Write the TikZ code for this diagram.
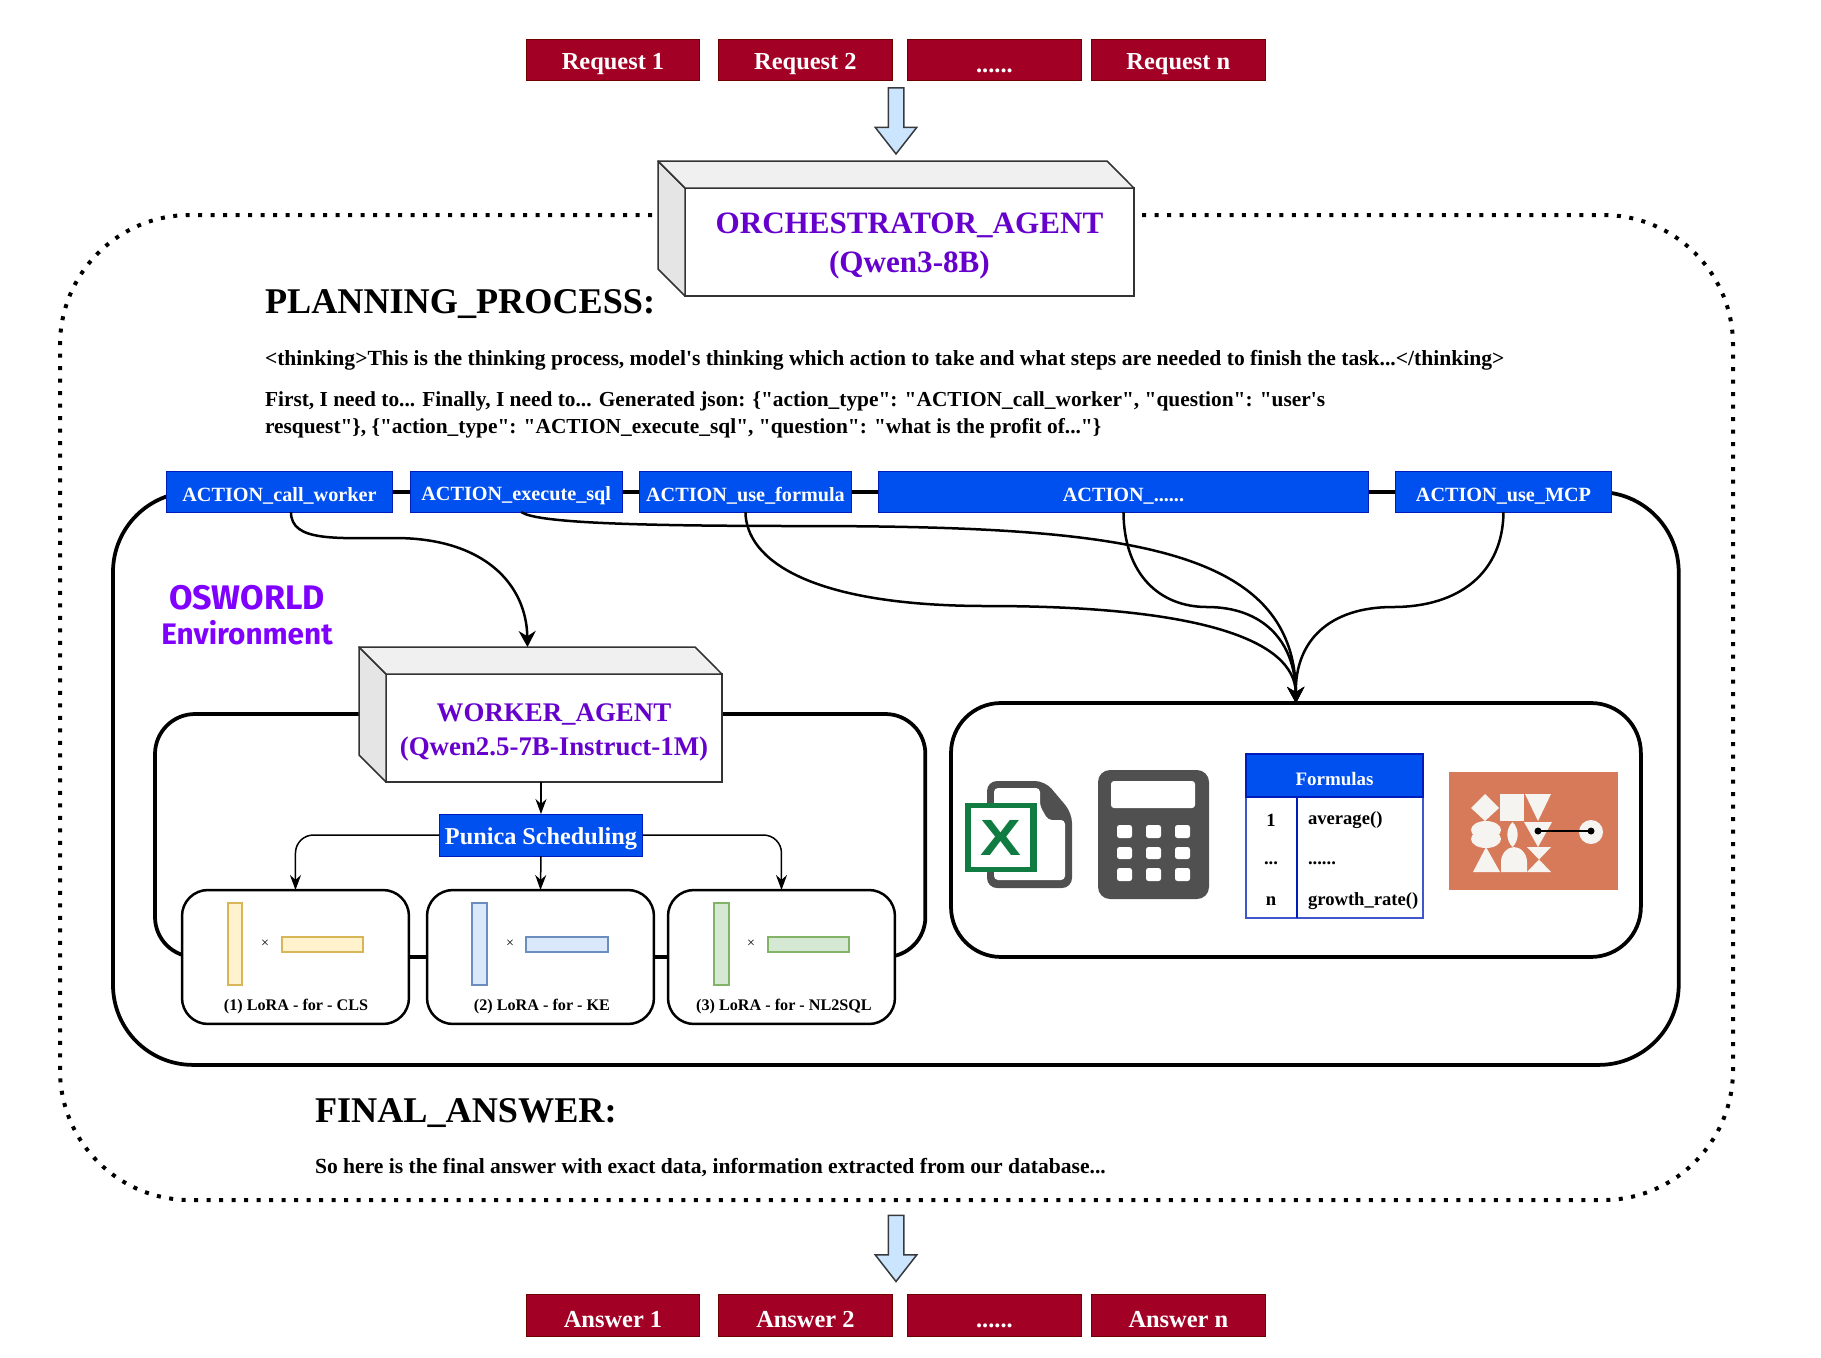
\documentclass[tikz,border=0pt]{standalone}
\usepackage{fontspec}
\usepackage{graphicx}
\setmainfont[Ligatures=TeXOff]{Liberation Serif}
\setsansfont{Liberation Sans}
\newfontfamily\handfont{Fira Sans}
\usetikzlibrary{arrows.meta,positioning,shapes.arrows}
\definecolor{reqred}{HTML}{A20025}
\definecolor{reqedge}{HTML}{6F0000}
\definecolor{actblue}{HTML}{0050EF}
\definecolor{actedge}{HTML}{001DBC}
\definecolor{agentpurple}{HTML}{6600CC}
\definecolor{envpurple}{HTML}{7F00FF}
\definecolor{arrowblue}{HTML}{CCE5FF}
\definecolor{arrowedge}{HTML}{36393D}
\definecolor{iconrust}{HTML}{D67A5A}
\definecolor{icongrey}{HTML}{505050}
\definecolor{excelgreen}{HTML}{107C41}
\definecolor{shapewhite}{HTML}{F6F4F0}
\definecolor{barsand}{HTML}{FFF2CC}
\definecolor{barsandedge}{HTML}{D6B656}
\definecolor{barsky}{HTML}{DAE8FC}
\definecolor{barskyedge}{HTML}{6C8EBF}
\definecolor{barleaf}{HTML}{D5E8D4}
\definecolor{barleafedge}{HTML}{82B366}
\newcommand{\textnudge}{\rule{0pt}{\dimexpr0.68em+4.6pt\relax}}

\begin{document}
\begin{tikzpicture}[
  x=0.02cm, y=-0.02cm,
  base/.style={inner sep=0pt, outer sep=0pt, align=center},
  reqbox/.style={base, execute at begin node=\textnudge, draw=reqedge, fill=reqred, text=white, line width=0.02cm, minimum width=3.48cm, minimum height=0.84cm, anchor=north west,
    font=\fontsize{13.9}{16}\selectfont\bfseries},
  actbox/.style={base, execute at begin node=\textnudge, draw=actedge, fill=actblue, text=white, line width=0.02cm, minimum height=0.82cm, anchor=north west,
    font=\fontsize{11.5}{14}\selectfont\bfseries},
  agentbox/.style={base, draw=black!80, fill=white, line width=0.03cm, text=agentpurple, anchor=north west},
  cubeside/.style={draw=black!80, fill=black!10, line width=0.03cm, line join=round},
  cubetop/.style={draw=black!80, fill=black!6, line width=0.03cm, line join=round},
  panel/.style={base, draw=black, line width=0.075cm, anchor=north west},
  lorabox/.style={panel, fill=white, line width=0.05cm, rounded corners=0.52cm, minimum width=4.54cm, minimum height=2.68cm},
  lorabar/.style={line width=0.03cm},
  loralabel/.style={base, font=\fontsize{9.2}{11}\selectfont\bfseries},
  timeslabel/.style={base, font=\fontsize{8}{9}\selectfont},
  flow/.style={-{Stealth[length=0.32cm, width=0.34cm]}, line width=0.05cm},
  thinflow/.style={-{Stealth[length=0.3cm, width=0.22cm]}, line width=0.03cm},
  blockarrow/.style={base, single arrow, draw=arrowedge, fill=arrowblue, line width=0.03cm, shape border rotate=270,
    inner sep=0.14cm, minimum width=0.8cm, minimum height=1.32cm, single arrow head extend=0.26cm, single arrow tip angle=76},
  heading/.style={base, anchor=west, font=\fontsize{20.6}{24}\selectfont\bfseries},
  bodytext/.style={base, anchor=west, align=left, font=\fontsize{12.28}{15}\selectfont\bfseries},
  celltext/.style={base, font=\fontsize{10.6}{12}\selectfont\bfseries},
]
  \useasboundingbox (0,0) rectangle (1821,1357);

  % requests
  \node[reqbox] (req1) at (526,39) {Request 1};
  \node[reqbox, right=0.37cm of req1] (req2) {Request 2};
  \node[reqbox, right=0.3cm of req2] (req3) {......};
  \node[reqbox, right=0.2cm of req3] (req4) {Request n};
  \node[blockarrow] (inarrow) at (896,116) {};

  % outer loop
  \draw[line width=0.08cm, dash pattern=on 0.08cm off 0.17cm, rounded corners=2.6cm]
    (1142,215) -| (1733,1200) -| (60,215) -- (657,215);

  % orchestrator
  \node[agentbox, minimum width=8.98cm, minimum height=2.16cm, font=\fontsize{17.7}{22}\selectfont\bfseries] (orch) at (685,188) {\textnudge ORCHESTRATOR\_AGENT\\(Qwen3-8B)};
  \draw[cubeside] (orch.north west) -- ++(-27,-27) -- ++(0,108) -- (orch.south west) -- cycle;
  \draw[cubetop] (orch.north west) -- ++(-27,-27) -- ++(449,0) -- (orch.north east) -- cycle;

  \node[heading] (plan) at (265,304.5) {PLANNING\_PROCESS:};
  \node[bodytext] (think) at (265,360) {<thinking>This is the thinking process, model's thinking which action to take and what steps are needed to finish the task...</thinking>};
  \node[bodytext, font=\fontsize{12.17}{15}\selectfont\bfseries] (firstline) at (265,415) {First, I need to... Finally, I need to... Generated json: \{"action\_type": "ACTION\_call\_worker", "question": "user's\\resquest"\}, \{"action\_type": "ACTION\_execute\_sql", "question": "what is the profit of..."\}};

  % environment
  \node[panel, rounded corners=1.6cm, minimum width=31.32cm, minimum height=11.46cm] (envpanel) at (113,492) {};
  \node[actbox, minimum width=4.54cm] (actcall) at (166,471) {ACTION\_call\_worker};
  \node[actbox, minimum width=4.25cm] (actsql) at (410,471) {ACTION\_execute\_sql};
  \node[actbox, minimum width=4.26cm] (actformula) at (639,471) {ACTION\_use\_formula};
  \node[actbox, minimum width=9.82cm] (actmore) at (878,471) {ACTION\_......};
  \node[actbox, minimum width=4.34cm] (actmcp) at (1395,471) {ACTION\_use\_MCP};
  \node[base, text=envpurple, font=\handfont\bfseries] (osworld) at (247,615) {{\fontsize{19.4}{20.5}\selectfont OSWORLD}\\[5pt]{\fontsize{16.9}{20.5}\selectfont Environment}};

  % worker side
  \node[panel, rounded corners=0.8cm, minimum width=15.41cm, minimum height=4.86cm] (workerpanel) at (155,714) {};
  \node[agentbox, minimum width=6.72cm, minimum height=2.16cm, font=\fontsize{15.3}{19}\selectfont\bfseries] (worker) at (386,674) {\textnudge WORKER\_AGENT\\(Qwen2.5-7B-Instruct-1M)};
  \draw[cubeside] (worker.north west) -- ++(-27,-27) -- ++(0,108) -- (worker.south west) -- cycle;
  \draw[cubetop] (worker.north west) -- ++(-27,-27) -- ++(336,0) -- (worker.north east) -- cycle;
  \coordinate (workertop) at ([shift={(-26.5,-27)}]worker.north);
  \node[actbox, minimum width=4.08cm, minimum height=0.84cm, font=\fontsize{13.8}{16}\selectfont\bfseries] (punica) at (439,814) {Punica Scheduling};
  \node[lorabox] (lora1) at (182,890) {};
  \node[lorabox] (lora2) at (427,890) {};
  \node[lorabox] (lora3) at (668,890) {};
  \draw[lorabar, draw=barsandedge, fill=barsand] (228,903) rectangle (242,985);
  \draw[lorabar, draw=barsandedge, fill=barsand] (282,937) rectangle (363,952);
  \node[timeslabel] (times1) at (265,944) {×};
  \node[loralabel] (label1) at (296,1007) {(1) LoRA - for - CLS};
  \draw[lorabar, draw=barskyedge, fill=barsky] (472,903) rectangle (487,985);
  \draw[lorabar, draw=barskyedge, fill=barsky] (526,937) rectangle (608,952);
  \node[timeslabel] (times2) at (510,944) {×};
  \node[loralabel] (label2) at (542,1007) {(2) LoRA - for - KE};
  \draw[lorabar, draw=barleafedge, fill=barleaf] (714,903) rectangle (729,985);
  \draw[lorabar, draw=barleafedge, fill=barleaf] (768,937) rectangle (849,952);
  \node[timeslabel] (times3) at (751,944) {×};
  \node[loralabel] (label3) at (784,1007) {(3) LoRA - for - NL2SQL};
  \draw[thinflow] (worker.south -| punica.north) -- (punica.north);
  \draw[thinflow] (punica.south) -- (lora2.north);
  \draw[thinflow, rounded corners=0.36cm] (punica.west) -| (lora1.north);
  \draw[thinflow, rounded corners=0.36cm] (punica.east) -| (lora3.north);

  % tool side
  \node[panel, rounded corners=1cm, minimum width=13.8cm, minimum height=5.08cm] (tools) at (951,703) {};
  % excel
  \fill[icongrey, rounded corners=0.2cm] (987,781) -- (1045,781) -- (1072,813) -- (1072,888) -- (987,888) -- cycle;
  \fill[white, rounded corners=0.08cm] (994,788) -- (1040,788) -- (1040,806) -- (1048,820) -- (1065,820) -- (1065,880) -- (994,880) -- cycle;
  \fill[excelgreen] (965,803) rectangle (1037,872);
  \fill[white] (971,808) rectangle (1030,867);
  \node[base, text=excelgreen, font=\fontsize{29}{29}\selectfont\sffamily\bfseries] (excelx) at (1000.5,837.5) {\scalebox{1.2}[1]{X}};
  % calculator
  \fill[icongrey, rounded corners=0.24cm] (1098,770) rectangle (1209,899);
  \fill[white, rounded corners=0.06cm] (1111,781) rectangle (1195,808);
  \fill[white, rounded corners=0.05cm] (1117,825) rectangle (1132,838) (1146,825) rectangle (1161,838) (1175,825) rectangle (1190,838);
  \fill[white, rounded corners=0.05cm] (1117,847) rectangle (1132,859) (1146,847) rectangle (1161,859) (1175,847) rectangle (1190,859);
  \fill[white, rounded corners=0.05cm] (1117,868) rectangle (1132,881) (1146,868) rectangle (1161,881) (1175,868) rectangle (1190,881);
  % formulas
  \node[base, draw=actedge!75!white, fill=white, line width=0.03cm, minimum width=3.54cm, minimum height=3.28cm, anchor=north west] (fbody) at (1246,754) {};
  \node[actbox, line width=0.03cm, minimum width=3.54cm, minimum height=0.86cm, font=\fontsize{10.8}{12}\selectfont\bfseries] (fhead) at (1246,754) {Formulas};
  \draw[actedge, line width=0.03cm] (fhead.south -| 1297,0) -- (fbody.south -| 1297,0);
  \node[celltext] (row1) at (1271,820) {1};
  \node[celltext, anchor=west] (name1) at (1308,820) {average()};
  \node[celltext] (row2) at (1271,863) {...};
  \node[celltext, anchor=west] (name2) at (1308,863) {......};
  \node[celltext] (row3) at (1271,901) {n};
  \node[celltext, anchor=west] (name3) at (1308,901) {growth\_rate()};
  % mcp
  \fill[iconrust] (1449,772) rectangle (1618,890);
  \fill[shapewhite] (1485,794) -- (1499,808) -- (1485,821) -- (1471,808) -- cycle;
  \fill[shapewhite] (1500,794) rectangle (1524,821);
  \fill[shapewhite] (1525,794) -- (1551,794) -- (1538,821) -- cycle;
  \fill[shapewhite] (1486,830) ellipse [x radius=15, y radius=9];
  \fill[shapewhite] (1486,839) ellipse [x radius=15, y radius=9];
  \fill[shapewhite] (1512.5,822) to[bend left=45] (1512.5,847) to[bend left=45] cycle;
  \fill[shapewhite] (1524,822) -- (1552,822) -- (1538,847) -- cycle;
  \fill[shapewhite] (1473,872) -- (1500,872) -- (1486,847) -- cycle;
  \fill[shapewhite] (1501,872) -- (1501,862) .. controls (1501,853) and (1508,847) .. (1514,847) .. controls (1520,847) and (1527,853) .. (1527,862) -- (1527,872) -- cycle;
  \fill[shapewhite] (1527,847) -- (1551,847) -- (1527,872) -- (1551,872) -- cycle;
  \fill[shapewhite] (1591,832) circle [radius=12];
  \coordinate (mcpleft) at (1538,831);
  \coordinate (mcpright) at (1591,831);
  \draw[line width=0.04cm] (mcpleft) -- (mcpright);
  \fill (mcpleft) circle [radius=3.5];
  \fill (mcpright) circle [radius=3.5];

  % calls
  \draw[flow] ([xshift=0.23cm]actcall.south) .. controls ++(0,30) and (335,538) .. (395,538) .. controls (485,538) and (526.5,585) .. (workertop);
  \draw[flow] ([xshift=0.1cm]actsql.south) .. controls (535,522) and (620,526) .. (800,526) .. controls (1120,526) and (1295,545) .. (tools.north);
  \draw[flow] (actformula.south) .. controls (746,560) and (810,606) .. (987,606) .. controls (1200,606) and (1295,640) .. (tools.north);
  \draw[flow] (actmore.south) .. controls (1124,575) and (1160,607) .. (1207,607) .. controls (1262,607) and (1295,640) .. (tools.north);
  \draw[flow] (actmcp.south) .. controls (1503,572) and (1460,607) .. (1393,607) .. controls (1330,607) and (1295,640) .. (tools.north);

  \node[heading] (finalhead) at (315,1113.5) {FINAL\_ANSWER:};
  \node[bodytext] (finaltext) at (315,1168) {So here is the final answer with exact data, information extracted from our database...};

  % answers
  \node[blockarrow] (outarrow) at (896,1243.5) {};
  \node[reqbox] (ans1) at (526,1294) {Answer 1};
  \node[reqbox, right=0.37cm of ans1] (ans2) {Answer 2};
  \node[reqbox, right=0.3cm of ans2] (ans3) {......};
  \node[reqbox, right=0.2cm of ans3] (ans4) {Answer n};
\end{tikzpicture}
\end{document}
